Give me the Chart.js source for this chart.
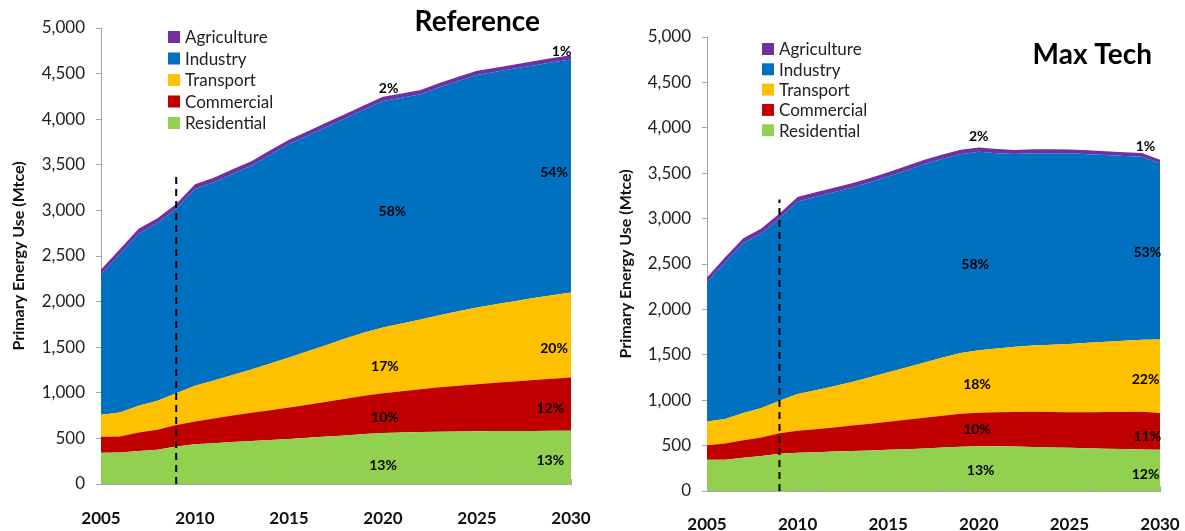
<!DOCTYPE html>
<html lang="en">
<head>
<meta charset="UTF-8" />
<title>Primary Energy Use</title>
<script src="https://cdn.jsdelivr.net/npm/chart.js"></script>
<style>
  body { margin: 0; background: #fff; }
  .wrap { position: relative; width: 1185px; height: 531px; }
  #box1 { position: absolute; left: 0; top: 0; }
  #box2 { position: absolute; left: 597px; top: 0; }
</style>
</head>
<body>
<div class="wrap">
  <div id="box1"><canvas id="chartRef" width="597" height="531"></canvas></div>
  <div id="box2"><canvas id="chartMax" width="588" height="531"></canvas></div>
</div>
<script>
var years = [2005, 2006, 2007, 2008, 2009, 2010, 2011, 2012, 2013, 2014, 2015, 2016, 2017,
             2018, 2019, 2020, 2021, 2022, 2023, 2024, 2025, 2026, 2027, 2028, 2029, 2030];

var sectors = ["Residential", "Commercial", "Transport", "Industry", "Agriculture"];
var colors = ["#92d050", "#c00000", "#ffc000", "#0070c0", "#7030a0"];

// Reference scenario (Mtce)
var refResidential = [343, 345, 362, 376, 410, 435, 447, 460, 472, 482, 493, 506, 520, 533, 548, 560, 565, 570, 573, 576, 578, 580, 581, 582, 583, 585];
var refCommercial  = [175, 177, 204, 219, 236, 251, 271, 290, 308, 328, 346, 364, 383, 402, 420, 436, 453, 470, 487, 502, 517, 530, 544, 558, 572, 583];
var refTransport   = [241, 263, 292, 317, 350, 391, 417, 445, 475, 510, 548, 585, 622, 660, 692, 719, 742, 765, 790, 815, 839, 860, 880, 900, 915, 931];
var refIndustry    = [1541, 1735, 1887, 1950, 2022, 2159, 2174, 2205, 2235, 2290, 2340, 2365, 2390, 2415, 2445, 2485, 2476, 2468, 2500, 2527, 2550, 2550, 2550, 2550, 2555, 2556];
var refAgriculture = [52, 53, 53, 52, 52, 50, 50, 50, 49, 49, 48, 48, 48, 47, 47, 47, 47, 46, 46, 46, 46, 45, 45, 45, 45, 45];

// Max Tech scenario (Mtce)
var mtResidential = [343, 343, 365, 385, 410, 422, 428, 434, 440, 447, 453, 461, 469, 478, 487, 494, 492, 489, 485, 480, 475, 470, 466, 462, 458, 453];
var mtCommercial  = [162, 180, 195, 204, 227, 241, 252, 266, 280, 293, 309, 324, 339, 352, 363, 368, 374, 381, 388, 390, 391, 397, 403, 409, 415, 405];
var mtTransport   = [261, 269, 298, 324, 357, 405, 430, 455, 480, 512, 546, 575, 607, 640, 670, 689, 704, 718, 729, 741, 754, 765, 774, 784, 792, 811];
var mtIndustry    = [1534, 1728, 1872, 1927, 2011, 2120, 2130, 2135, 2140, 2148, 2155, 2170, 2185, 2190, 2190, 2186, 2150, 2123, 2117, 2108, 2099, 2078, 2057, 2035, 2017, 1940];
var mtAgriculture = [52, 53, 53, 52, 52, 50, 50, 49, 49, 48, 48, 48, 47, 47, 47, 47, 46, 45, 45, 44, 43, 42, 42, 41, 40, 40];

// share labels: [year, value, text]
var refShares = [[2020.3, 4335, "2%"], [2020.5, 2990, "58%"], [2020.1, 1285, "17%"], [2020.1, 730, "10%"], [2020, 208, "13%"],
                 [2029.5, 4745, "1%"], [2029.1, 3418, "54%"], [2029.1, 1485, "20%"], [2028.9, 828, "12%"], [2028.9, 255, "13%"]];
var mtShares = [[2020, 3902, "2%"], [2019.8, 2493, "58%"], [2019.9, 1168, "18%"], [2019.9, 681, "10%"], [2020.1, 228, "13%"],
                [2029.2, 3792, "1%"], [2029.3, 2632, "53%"], [2029.2, 1227, "22%"], [2029.3, 597, "11%"], [2029.2, 184, "12%"]];

var font = "Lato, 'Open Sans', sans-serif";

var overlay = {
  id: "overlay",
  afterDatasetsDraw: function (chart, args, o) {
    var ctx = chart.ctx;
    var x = chart.scales.x;
    var y = chart.scales.y;
    var a = chart.chartArea;
    ctx.save();

    // small tick marks inside the plot on the x axis
    ctx.strokeStyle = "#a6a6a6";
    ctx.lineWidth = 1;
    for (var i = 0; i < years.length; i++) {
      var px = Math.round(x.getPixelForValue(years[i])) + 0.5;
      ctx.beginPath();
      ctx.moveTo(px, a.bottom);
      ctx.lineTo(px, a.bottom - 5);
      ctx.stroke();
    }

    // dashed marker
    ctx.strokeStyle = "#000";
    ctx.lineWidth = 2;
    ctx.setLineDash([7, 5]);
    var dx = x.getPixelForValue(o.dashYear);
    ctx.beginPath();
    ctx.moveTo(dx, y.getPixelForValue(0));
    ctx.lineTo(dx, y.getPixelForValue(o.dashTop));
    ctx.stroke();
    ctx.setLineDash([]);

    // share labels
    ctx.fillStyle = "#000";
    ctx.font = "bold 14px " + font;
    ctx.textAlign = "center";
    ctx.textBaseline = "middle";
    o.shares.forEach(function (s) {
      ctx.fillText(s[2], x.getPixelForValue(s[0]), y.getPixelForValue(s[1]));
    });

    // legend (top series first)
    ctx.font = "17px " + font;
    ctx.textAlign = "left";
    var ds = chart.data.datasets.slice().reverse();
    for (var j = 0; j < ds.length; j++) {
      var ly = a.top + o.legendY + j * o.legendGap;
      ctx.fillStyle = ds[j].backgroundColor;
      ctx.fillRect(a.left + o.legendX, ly - 6, 12, 12);
      ctx.fillStyle = "#222";
      ctx.fillText(ds[j].label, a.left + o.legendX + 17, ly + 1);
    }

    // panel title
    ctx.fillStyle = "#000";
    ctx.font = "bold 28px " + font;
    ctx.textAlign = "right";
    ctx.fillText(o.title, a.right - o.titleRight, o.titleY);

    ctx.restore();
  }
};

function makeChart(id, series, cfg) {
  var datasets = [];
  for (var i = 0; i < sectors.length; i++) {
    datasets.push({
      label: sectors[i],
      data: series[i],
      backgroundColor: colors[i],
      borderColor: colors[i],
      borderWidth: 0,
      pointRadius: 0,
      tension: 0,
      fill: i === 0 ? "origin" : "-1"
    });
  }

  return new Chart(document.getElementById(id), {
    type: "line",
    data: { labels: years, datasets: datasets },
    options: {
      responsive: false,
      animation: false,
      layout: { padding: cfg.padding },
      scales: {
        x: {
          type: "linear",
          min: 2005,
          max: 2030,
          border: { color: "#a6a6a6" },
          grid: { drawOnChartArea: false, drawTicks: false },
          ticks: {
            stepSize: 5,
            autoSkip: false,
            maxRotation: 0,
            padding: cfg.xPad,
            color: "#111",
            font: { family: font, size: 17, weight: "bold" },
            callback: function (v) { return String(v); }
          },
          afterFit: function (s) {
            s.height = cfg.xHeight;
            s.paddingLeft = 0;
            s.paddingRight = 0;
          }
        },
        y: {
          stacked: true,
          min: 0,
          max: 5000,
          border: { color: "#a6a6a6" },
          grid: { drawOnChartArea: false, drawTicks: true, tickLength: 5, color: "#a6a6a6" },
          ticks: {
            stepSize: 500,
            padding: 11,
            color: "#222",
            font: { family: font, size: 17 },
            callback: function (v) { return v.toLocaleString("en-US"); }
          },
          title: {
            display: true,
            text: "Primary Energy Use (Mtce)",
            color: "#111",
            font: { family: font, size: 16, weight: "bold" }
          },
          afterFit: function (s) { s.width = cfg.yWidth; }
        }
      },
      plugins: {
        legend: { display: false },
        tooltip: { enabled: false },
        overlay: {
          dashYear: 2009,
          dashTop: cfg.dashTop,
          shares: cfg.shares,
          legendX: cfg.legendX,
          legendY: cfg.legendY,
          legendGap: cfg.legendGap,
          title: cfg.title,
          titleRight: cfg.titleRight,
          titleY: cfg.titleY
        }
      }
    },
    plugins: [overlay]
  });
}

makeChart("chartRef", [refResidential, refCommercial, refTransport, refIndustry, refAgriculture], {
  padding: { top: 28, right: 26, left: 5, bottom: 0 },
  xHeight: 47, xPad: 24, yWidth: 96,
  dashTop: 3420, shares: refShares,
  legendX: 67, legendY: 9, legendGap: 21.5,
  title: "Reference", titleRight: 31, titleY: 22
});

makeChart("chartMax", [mtResidential, mtCommercial, mtTransport, mtIndustry, mtAgriculture], {
  padding: { top: 37, right: 25, left: 15, bottom: 0 },
  xHeight: 40, xPad: 23, yWidth: 95,
  dashTop: 3210, shares: mtShares,
  legendX: 55, legendY: 12, legendGap: 20.3,
  title: "Max Tech", titleRight: 8, titleY: 55
});
</script>
</body>
</html>
